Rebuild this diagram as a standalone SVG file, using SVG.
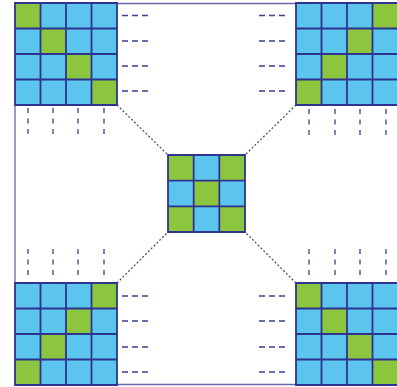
<svg xmlns="http://www.w3.org/2000/svg" width="397" height="387" viewBox="0 0 397 387">
<style>
.b{fill:#5bc5ee}
.g{fill:#8cc63f}
.gl{stroke:#2e3390;stroke-width:1.8;fill:none}
.border{stroke:#6c64a8;stroke-width:1.3;fill:none}
.conn{stroke:#4a4f78;stroke-width:1.3;stroke-dasharray:2 2;fill:none}
.hd{stroke:#3a3f8f;stroke-width:1.3;stroke-dasharray:6 4;fill:none}
.vd{stroke:#3a3f8f;stroke-width:1.3;stroke-dasharray:5 5.5;fill:none}
</style>
<rect width="397" height="387" fill="#ffffff"/>
<g id="border">
<line class="border" x1="117" y1="3.5" x2="296" y2="3.5"/>
<line class="border" x1="117" y1="384.5" x2="296" y2="384.5"/>
<line class="border" x1="15" y1="105" x2="15" y2="283"/>
</g>
<g id="connectors">
<line class="conn" x1="117" y1="105" x2="168" y2="155"/>
<line class="conn" x1="296" y1="105" x2="245" y2="155"/>
<line class="conn" x1="117" y1="283" x2="168" y2="232"/>
<line class="conn" x1="296" y1="283" x2="245" y2="232"/>
</g>
<g id="grid-top-left" transform="translate(15,3)">
<rect class="b" width="102" height="102"/>
<rect class="g" x="0" y="0" width="25.5" height="25.5"/>
<rect class="g" x="25.5" y="25.5" width="25.5" height="25.5"/>
<rect class="g" x="51" y="51" width="25.5" height="25.5"/>
<rect class="g" x="76.5" y="76.5" width="25.5" height="25.5"/>
<path class="gl" d="M0 0H102V102H0Z M25.5 0V102 M51 0V102 M76.5 0V102 M0 25.5H102 M0 51H102 M0 76.5H102"/>
</g>
<g id="grid-top-right" transform="translate(296,3)">
<rect class="b" width="102" height="102"/>
<rect class="g" x="76.5" y="0" width="25.5" height="25.5"/>
<rect class="g" x="51" y="25.5" width="25.5" height="25.5"/>
<rect class="g" x="25.5" y="51" width="25.5" height="25.5"/>
<rect class="g" x="0" y="76.5" width="25.5" height="25.5"/>
<path class="gl" d="M0 0H102V102H0Z M25.5 0V102 M51 0V102 M76.5 0V102 M0 25.5H102 M0 51H102 M0 76.5H102"/>
</g>
<g id="grid-bottom-left" transform="translate(15,283)">
<rect class="b" width="102" height="102"/>
<rect class="g" x="76.5" y="0" width="25.5" height="25.5"/>
<rect class="g" x="51" y="25.5" width="25.5" height="25.5"/>
<rect class="g" x="25.5" y="51" width="25.5" height="25.5"/>
<rect class="g" x="0" y="76.5" width="25.5" height="25.5"/>
<path class="gl" d="M0 0H102V102H0Z M25.5 0V102 M51 0V102 M76.5 0V102 M0 25.5H102 M0 51H102 M0 76.5H102"/>
</g>
<g id="grid-bottom-right" transform="translate(296,283)">
<rect class="b" width="102" height="102"/>
<rect class="g" x="0" y="0" width="25.5" height="25.5"/>
<rect class="g" x="25.5" y="25.5" width="25.5" height="25.5"/>
<rect class="g" x="51" y="51" width="25.5" height="25.5"/>
<rect class="g" x="76.5" y="76.5" width="25.5" height="25.5"/>
<path class="gl" d="M0 0H102V102H0Z M25.5 0V102 M51 0V102 M76.5 0V102 M0 25.5H102 M0 51H102 M0 76.5H102"/>
</g>
<g id="grid-center" transform="translate(168,155)">
<rect class="b" width="77" height="77"/>
<rect class="g" x="0" y="0" width="25.67" height="25.67"/>
<rect class="g" x="51.33" y="0" width="25.67" height="25.67"/>
<rect class="g" x="25.67" y="25.67" width="25.67" height="25.67"/>
<rect class="g" x="0" y="51.33" width="25.67" height="25.67"/>
<rect class="g" x="51.33" y="51.33" width="25.67" height="25.67"/>
<path class="gl" d="M0 0H77V77H0Z M25.67 0V77 M51.33 0V77 M0 25.67H77 M0 51.33H77"/>
</g>
<g id="ellipsis-marks">
<path class="hd" d="M122 15.5H149 M122 41H149 M122 66H149 M122 91H149"/>
<path class="hd" d="M259 15.5H286 M259 41H286 M259 66H286 M259 91H286"/>
<path class="hd" d="M122 296H149 M122 321H149 M122 347H149 M122 372H149"/>
<path class="hd" d="M259 296H286 M259 321H286 M259 347H286 M259 372H286"/>
<path class="vd" d="M28 108V136 M53 108V136 M78 108V136 M104 108V136"/>
<path class="vd" d="M309 109V137 M335 109V137 M360 109V137 M386 109V137"/>
<path class="vd" d="M28 249V277 M53 249V277 M78 249V277 M104 249V277"/>
<path class="vd" d="M309 249V277 M335 249V277 M360 249V277 M386 249V277"/>
</g>
</svg>
